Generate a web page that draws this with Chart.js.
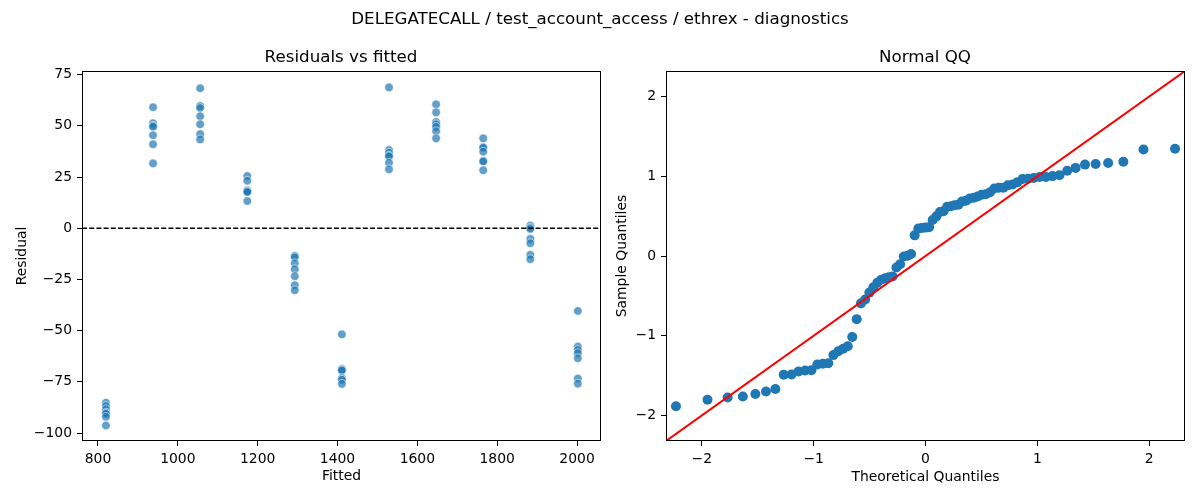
<!DOCTYPE html>
<html>
<head>
<meta charset="utf-8">
<script src="https://cdn.jsdelivr.net/npm/chart.js@4.4.1/dist/chart.umd.min.js"></script>
<style>
  body { margin: 0; background: #fff; font-family: "DejaVu Sans", sans-serif; }
  #wrap { position: relative; width: 1200px; height: 500px; overflow: hidden; }
  canvas { position: absolute; top: 0; }
  .t { position: absolute; font-size: 16.7px; color: #000; white-space: nowrap; transform: translate(-50%, -50%); }
</style>
</head>
<body>
<div id="wrap">
  <canvas id="resid_chart" width="610" height="500" style="left:0"></canvas>
  <canvas id="qq_chart" width="590" height="500" style="left:610px"></canvas>
  <div class="t" style="left:600px;top:18px">DELEGATECALL / test_account_access / ethrex - diagnostics</div>
  <div class="t" style="left:341px;top:56px">Residuals vs fitted</div>
  <div class="t" style="left:925px;top:56px">Normal QQ</div>
</div>
<script>
// fitted value of each group (x of each column of dots)
var fittedLevels = [820, 938, 1056, 1174, 1293, 1411, 1529, 1647, 1765, 1883, 2002];
var residuals = [
    [-85.2, -86.8, -88.4, -90.0, -90.6, -92.1, -96.3],
    [59.1, 51.3, 50.1, 49.6, 45.4, 41.0, 31.7],
    [68.4, 59.7, 58.7, 54.7, 50.8, 46.0, 43.4],
    [25.5, 23.2, 18.6, 18.3, 18.0, 17.7, 13.3],
    [-13.5, -14.2, -17.1, -20.0, -23.4, -27.8, -30.3],
    [-51.8, -68.7, -69.0, -69.5, -73.2, -74.0, -76.0],
    [68.8, 38.2, 36.9, 35.5, 35.1, 32.0, 28.8],
    [60.5, 56.6, 51.9, 50.8, 49.5, 47.4, 43.9],
    [43.9, 39.7, 39.3, 37.4, 33.0, 32.6, 28.3],
    [1.3, 0.3, -0.3, -5.2, -7.3, -13.0, -15.1],
    [-40.4, -57.8, -59.4, -61.0, -63.5, -73.4, -75.9]
];
var fittedTicks = [800, 1000, 1200, 1400, 1600, 1800, 2000];
var residTicks = [-100, -75, -50, -25, 0, 25, 50, 75];

// normal QQ points
var qqTheoretical = [
    -2.231, -1.949, -1.769, -1.633, -1.521, -1.426, -1.342, -1.267, -1.198, -1.135,
    -1.076, -1.020, -0.967, -0.917, -0.869, -0.823, -0.779, -0.736, -0.695, -0.655,
    -0.615, -0.577, -0.539, -0.502, -0.466, -0.431, -0.396, -0.361, -0.327, -0.294,
    -0.260, -0.227, -0.194, -0.161, -0.129, -0.097, -0.064, -0.032, 0.000,
    0.032, 0.064, 0.097, 0.129, 0.161, 0.194, 0.227, 0.260, 0.294, 0.327,
    0.361, 0.396, 0.431, 0.466, 0.502, 0.539, 0.577, 0.615, 0.655, 0.695,
    0.736, 0.779, 0.823, 0.869, 0.917, 0.967, 1.020, 1.076, 1.135, 1.198,
    1.267, 1.342, 1.426, 1.521, 1.633, 1.769, 1.949, 2.231
];
var qqSample = [
    -1.885, -1.803, -1.774, -1.762, -1.731, -1.699, -1.668, -1.488, -1.486, -1.449,
    -1.437, -1.433, -1.361, -1.351, -1.345, -1.243, -1.195, -1.163, -1.132, -1.015,
    -0.792, -0.594, -0.545, -0.459, -0.393, -0.336, -0.297, -0.279, -0.266, -0.256,
    -0.144, -0.103, -0.007, 0.004, 0.024, 0.259, 0.345, 0.351, 0.356,
    0.362, 0.452, 0.497, 0.552, 0.562, 0.618, 0.624, 0.636, 0.644, 0.685,
    0.693, 0.720, 0.730, 0.746, 0.767, 0.775, 0.800, 0.847, 0.857, 0.857,
    0.886, 0.898, 0.926, 0.967, 0.969, 0.978, 0.992, 0.992, 1.002, 1.014,
    1.068, 1.105, 1.146, 1.154, 1.166, 1.182, 1.336, 1.344
];
var qqLimits = [-2.32, 2.32];
var qqTicks = [-2, -1, 0, 1, 2];

Chart.defaults.font.family = '"DejaVu Sans", sans-serif';
Chart.defaults.font.size = 13.9;
Chart.defaults.color = '#000';

function minus(v) {
    return String(v).replace('-', '\u2212');
}

// axes frame + optional dashed zero line
var framePlugin = {
    id: 'frame',
    afterDatasetsDraw(chart, args, opts) {
        var ctx = chart.ctx, a = chart.chartArea;
        ctx.save();
        if (opts.zero) {
            var y = chart.scales.y.getPixelForValue(0);
            ctx.strokeStyle = '#000';
            ctx.lineWidth = 1.3;
            ctx.setLineDash([5, 2.2]);
            ctx.beginPath();
            ctx.moveTo(a.left, y);
            ctx.lineTo(a.right, y);
            ctx.stroke();
            ctx.setLineDash([]);
        }
        ctx.strokeStyle = '#000';
        ctx.lineWidth = 1;
        ctx.strokeRect(a.left + 0.5, a.top + 0.5, a.right - a.left - 1, a.bottom - a.top - 1);
        ctx.restore();
    }
};

function axis(min, max, ticks, title, isY, boxSize, titlePad) {
    return {
        type: 'linear',
        min: min,
        max: max,
        afterBuildTicks: function (s) { s.ticks = ticks.map(function (v) { return { value: v }; }); },
        afterFit: function (s) { if (isY) s.width = boxSize; else s.height = boxSize; },
        grid: { display: true, drawOnChartArea: false, drawTicks: true, tickLength: 5, tickColor: '#000', tickWidth: 1 },
        border: { display: false },
        ticks: { padding: 5, color: '#000', callback: function (v) { return minus(v); } },
        title: { display: true, text: title, color: '#000', font: { size: 13.9 }, padding: titlePad }
    };
}

var residPoints = [];
fittedLevels.forEach(function (f, i) {
    residuals[i].forEach(function (r) { residPoints.push({ x: f, y: r }); });
});

new Chart(document.getElementById('resid_chart'), {
    type: 'scatter',
    data: {
        datasets: [{
            data: residPoints,
            pointRadius: 4.3,
            backgroundColor: 'rgba(31,119,180,0.7)',
            borderColor: 'rgba(255,255,255,0.7)',
            borderWidth: 0.8
        }]
    },
    options: {
        responsive: false,
        animation: false,
        layout: { padding: { top: 71, right: 9, bottom: 0, left: 0 } },
        plugins: { legend: { display: false }, tooltip: { enabled: false }, frame: { zero: true } },
        scales: {
            x: axis(760, 2060, fittedTicks, 'Fitted', false, 59, { top: 0, bottom: 15 }),
            y: axis(-103.9, 76.8, residTicks, 'Residual', true, 82, { top: 14, bottom: 0 })
        }
    },
    plugins: [framePlugin]
});

var qqPoints = qqTheoretical.map(function (t, i) { return { x: t, y: qqSample[i] }; });

new Chart(document.getElementById('qq_chart'), {
    type: 'scatter',
    data: {
        datasets: [{
            type: 'line',
            data: qqLimits.map(function (v) { return { x: v, y: v }; }),
            borderColor: '#ff0000',
            borderWidth: 2,
            pointRadius: 0,
            order: 0
        }, {
            data: qqPoints,
            pointRadius: 5,
            backgroundColor: '#1f77b4',
            borderWidth: 0,
            order: 1
        }]
    },
    options: {
        responsive: false,
        animation: false,
        layout: { padding: { top: 71, right: 15, bottom: 0, left: 0 } },
        plugins: { legend: { display: false }, tooltip: { enabled: false }, frame: { zero: false } },
        scales: {
            x: axis(qqLimits[0], qqLimits[1], qqTicks, 'Theoretical Quantiles', false, 59, { top: 0, bottom: 14 }),
            y: axis(qqLimits[0], qqLimits[1], qqTicks, 'Sample Quantiles', true, 56, { top: 4, bottom: 0 })
        }
    },
    plugins: [framePlugin]
});
</script>
</body>
</html>
